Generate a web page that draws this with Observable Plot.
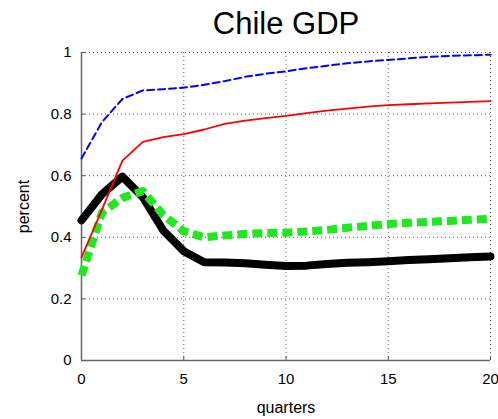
<!DOCTYPE html>
<html>
<head>
<meta charset="utf-8">
<script src="https://cdn.jsdelivr.net/npm/d3@7"></script>
<script src="https://cdn.jsdelivr.net/npm/@observablehq/plot@0.6"></script>
<style>
  html, body { margin: 0; padding: 0; background: #fff; }
  #chart svg { display: block; }
</style>
</head>
<body>
<div id="chart"></div>
<script>
const quarters = [0,1,2,3,4,5,6,7,8,9,10,11,12,13,14,15,16,17,18,19,20];
const blueSeries  = [0.656,0.774,0.849,0.877,0.881,0.886,0.895,0.907,0.921,0.931,0.939,0.949,0.957,0.965,0.971,0.976,0.981,0.986,0.989,0.991,0.993];
const redSeries   = [0.335,0.490,0.649,0.710,0.725,0.735,0.750,0.768,0.779,0.787,0.794,0.803,0.811,0.818,0.824,0.829,0.832,0.835,0.837,0.840,0.842];
const blackSeries = [0.455,0.540,0.597,0.530,0.422,0.355,0.319,0.318,0.316,0.311,0.307,0.308,0.313,0.317,0.319,0.322,0.326,0.329,0.332,0.335,0.338];
const greenSeries = [0.276,0.480,0.528,0.550,0.472,0.420,0.400,0.406,0.411,0.414,0.415,0.419,0.424,0.431,0.437,0.443,0.447,0.450,0.453,0.457,0.460];
const xTicks = [0,5,10,15,20];
const yTicks = [0,0.2,0.4,0.6,0.8,1];
const yTickLabels = ["0","0.2","0.4","0.6","0.8","1"];
const titleText = "Chile GDP";
const xLabel = "quarters";
const yLabel = "percent";

const toRows = (vals) => quarters.map((q, i) => ({q, v: vals[i]}));

const font = "'Liberation Sans', Arial, Helvetica, sans-serif";

const chart = Plot.plot({
  width: 498,
  height: 419,
  marginLeft: 81,
  marginRight: 8,
  marginTop: 52,
  marginBottom: 59,
  style: {fontFamily: font, background: "#fff", color: "#000"},
  x: {domain: [0, 20]},
  y: {domain: [0, 1]},
  marks: [
    Plot.gridX(xTicks, {stroke: "#666", strokeOpacity: 1, strokeDasharray: "1,3"}),
    Plot.gridY(yTicks, {stroke: "#666", strokeOpacity: 1, strokeDasharray: "1,3"}),
    Plot.axisX(xTicks, {tickSize: -4, tickPadding: 17, fontSize: 15, stroke: "#555", label: null, tickFormat: d => String(d)}),
    Plot.axisY(yTicks, {tickSize: -4, tickPadding: 14, fontSize: 15, stroke: "#555", label: null, tickFormat: (d, i) => yTickLabels[i]}),
    Plot.ruleX([0], {stroke: "#666", strokeWidth: 1.5}),
    Plot.ruleY([0], {stroke: "#666", strokeWidth: 1.5}),
    Plot.line(toRows(blackSeries), {x: "q", y: "v", stroke: "#000", strokeWidth: 8, strokeLinejoin: "round"}),
    Plot.line(toRows(greenSeries), {x: "q", y: "v", stroke: "#1ee81e", strokeWidth: 8, strokeDasharray: "10,5", strokeLinecap: "butt"}),
    Plot.line(toRows(redSeries), {x: "q", y: "v", stroke: "#ff0000", strokeWidth: 1.8}),
    Plot.line(toRows(blueSeries), {x: "q", y: "v", stroke: "#0000ff", strokeWidth: 2, strokeDasharray: "7,4"}),
    Plot.text([titleText], {frameAnchor: "top", dy: -28, fontSize: 31, textAnchor: "middle", lineAnchor: "middle", fill: "#000"}),
    Plot.text([xLabel], {frameAnchor: "bottom", dy: 47, fontSize: 16, textAnchor: "middle", lineAnchor: "middle", fill: "#000"}),
    Plot.text([yLabel], {frameAnchor: "left", dx: -58, rotate: -90, fontSize: 16, textAnchor: "middle", lineAnchor: "middle", fill: "#000"})
  ]
});

document.getElementById("chart").appendChild(chart);
</script>
</body>
</html>
